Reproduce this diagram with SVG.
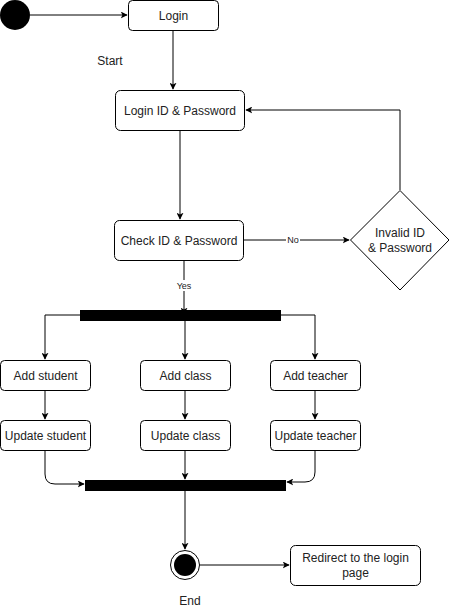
<svg xmlns="http://www.w3.org/2000/svg" width="449" height="611" viewBox="0 0 449 611">
<style>
.box{fill:#fff;stroke:#000;stroke-width:1}
.t{font-family:"Liberation Sans",Arial,sans-serif;font-size:12px;fill:#222;text-anchor:middle}
.e{fill:none;stroke:#000;stroke-width:1}
.lbl{font-family:"Liberation Sans",Arial,sans-serif;font-size:9px;fill:#222;text-anchor:middle}
</style>
<defs>
<marker id="a" viewBox="0 0 10 10" refX="9" refY="5" markerWidth="7" markerHeight="7" orient="auto" markerUnits="userSpaceOnUse">
<path d="M0,0 L10,5 L0,10 L2.5,5 Z" fill="#000"/>
</marker>
</defs>
<rect width="449" height="611" fill="#fff"/>
<g id="connectors">
<path class="e" d="M30,15 H127" marker-end="url(#a)"/>
<path class="e" d="M173,30 V89" marker-end="url(#a)"/>
<path class="e" d="M400,190 V110 H246" marker-end="url(#a)"/>
<path class="e" d="M180,130 V219" marker-end="url(#a)"/>
<path class="e" d="M244,240 H349" marker-end="url(#a)"/>
<rect x="286" y="234" width="14" height="11" fill="#fff"/>
<text class="lbl" x="293" y="243">No</text>
<path class="e" d="M184,260 V314" marker-end="url(#a)"/>
<rect x="174" y="280" width="20" height="11" fill="#fff"/>
<text class="lbl" x="184" y="289">Yes</text>
<path class="e" d="M80,315 H45 V359" marker-end="url(#a)"/>
<path class="e" d="M185,320 V359" marker-end="url(#a)"/>
<path class="e" d="M281,315 H315 V359" marker-end="url(#a)"/>
<path class="e" d="M45,390 V419" marker-end="url(#a)"/>
<path class="e" d="M185,390 V419" marker-end="url(#a)"/>
<path class="e" d="M315,390 V419" marker-end="url(#a)"/>
<path class="e" d="M45,450 V474 Q45,484 55,484 H84" marker-end="url(#a)"/>
<path class="e" d="M185,450 V479" marker-end="url(#a)"/>
<path class="e" d="M315,450 V472 Q315,482 305,482 H287" marker-end="url(#a)"/>
<path class="e" d="M185,491 V549" marker-end="url(#a)"/>
<path class="e" d="M200,565 H289" marker-end="url(#a)"/>
</g>
<g id="start"><circle cx="15" cy="15" r="15" fill="#000"/></g>
<text class="t" x="110" y="65">Start</text>
<g id="login"><rect class="box" x="128.5" y="0.5" width="90" height="30" rx="4"/><text class="t" x="173.5" y="20">Login</text></g>
<g id="loginid"><rect class="box" x="115.5" y="90.5" width="129" height="40" rx="5"/><text class="t" x="180" y="115">Login ID &amp; Password</text></g>
<g id="check"><rect class="box" x="114.5" y="220.5" width="129" height="40" rx="5"/><text class="t" x="179" y="245">Check ID &amp; Password</text></g>
<g id="invalid"><path class="box" d="M400,190.5 L449,240 L400,290 L350.5,240 Z"/><text class="t" x="400" y="237">Invalid ID</text><text class="t" x="400" y="252">&amp; Password</text></g>
<g id="fork"><rect x="80" y="310" width="201" height="11" fill="#000"/></g>
<g id="addstudent"><rect class="box" x="0.5" y="360.5" width="90" height="30" rx="4"/><text class="t" x="45.5" y="380">Add student</text></g>
<g id="addclass"><rect class="box" x="140.5" y="360.5" width="90" height="30" rx="4"/><text class="t" x="185.5" y="380">Add class</text></g>
<g id="addteacher"><rect class="box" x="270.5" y="360.5" width="90" height="30" rx="4"/><text class="t" x="315.5" y="380">Add teacher</text></g>
<g id="updstudent"><rect class="box" x="0.5" y="420.5" width="90" height="30" rx="4"/><text class="t" x="45.5" y="440">Update student</text></g>
<g id="updclass"><rect class="box" x="140.5" y="420.5" width="90" height="30" rx="4"/><text class="t" x="185.5" y="440">Update class</text></g>
<g id="updteacher"><rect class="box" x="270.5" y="420.5" width="90" height="30" rx="4"/><text class="t" x="315.5" y="440">Update teacher</text></g>
<g id="join"><rect x="85" y="480" width="201" height="11" fill="#000"/></g>
<g id="end"><circle cx="185" cy="565" r="14.5" fill="#fff" stroke="#000"/><circle cx="185" cy="565" r="11" fill="#000"/></g>
<text class="t" x="190" y="605">End</text>
<g id="redirect"><rect class="box" x="290.5" y="545.5" width="130" height="40" rx="5"/><text class="t" x="355.5" y="562">Redirect to the login</text><text class="t" x="355.5" y="577">page</text></g>
</svg>
